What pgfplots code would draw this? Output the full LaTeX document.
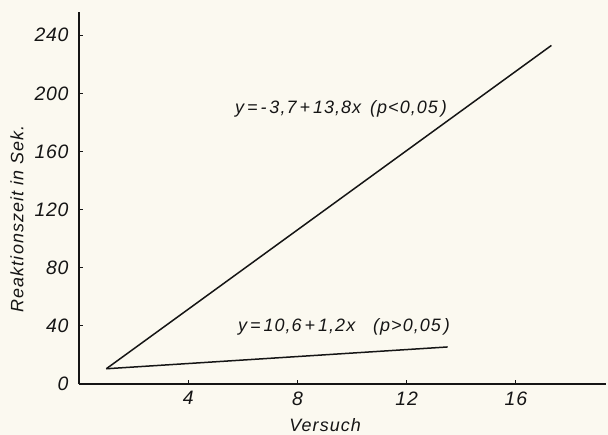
\documentclass[border=0pt]{standalone}
\usepackage{fontspec}
\setmainfont{Liberation Sans}
\usepackage{pgfplots}
\pgfplotsset{compat=1.18}
\definecolor{paper}{HTML}{FBF9F0}
\definecolor{ink}{HTML}{151515}
\pagecolor{paper}

\newcommand{\lbl}{\fontsize{18}{20}\selectfont\itshape\addfontfeature{LetterSpace=6}}

\begin{document}
\begin{tikzpicture}
\begin{axis}[
  scale only axis,
  width=527bp, height=372bp,
  xmin=0, xmax=19.3, ymin=0, ymax=256,
  axis x line*=bottom, axis y line*=left,
  axis line style={ink, line width=1.5bp},
  xtick={4,8,12,16}, ytick={0,40,...,240},
  tick align=inside, major tick length=4bp,
  tick style={ink, line width=1.2bp},
  /pgf/number format/assume math mode=true,
  ticklabel style={font=\fontsize{19.5}{22}\selectfont\itshape\addfontfeature{LetterSpace=4}, text=ink},
  xticklabel style={yshift=-4bp},
  yticklabel style={xshift=-7bp},
  xlabel={Versuch}, ylabel={Reaktionszeit in Sek.},
  label style={font=\lbl, text=ink},
  xlabel style={at={(axis description cs:0.467,0)}, anchor=base, yshift=-47bp},
  ylabel style={at={(axis description cs:-0.1176,0.444)}, anchor=center},
  clip=false,
]
\path (axis description cs:-0.1499,-0.1317) rectangle (axis description cs:1.0038,1.0323);

\addplot[ink, line width=1.5bp] coordinates {(1,10.5) (17.3,233)};
\addplot[ink, line width=1.5bp] coordinates {(1,10.5) (13.5,25.5)};

\node[anchor=base west, font=\lbl, text=ink, inner sep=0pt] at (axis cs:5.71,186.4)
  {y\,=\,-\,3,7\,+\,13,8x\enspace(p<0,05\,)};
\node[anchor=base west, font=\lbl, text=ink, inner sep=0pt] at (axis cs:5.82,35.8)
  {y\,=\,10,6\,+\,1,2x\quad(p>0,05\,)};
\end{axis}
\end{tikzpicture}
\end{document}
